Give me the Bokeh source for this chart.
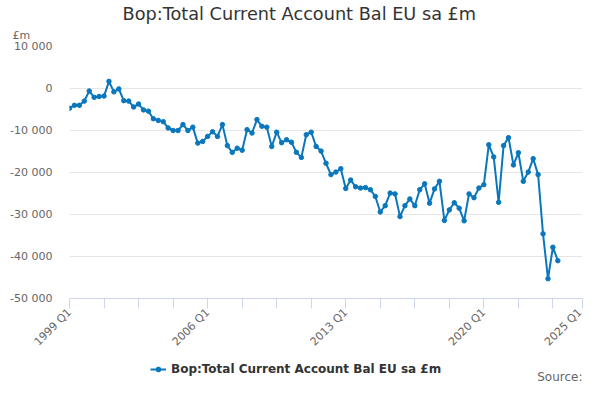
import math
from bokeh.plotting import figure
from bokeh.layouts import column
from bokeh.models import FixedTicker, Legend, LegendItem, ColumnDataSource, Title, Label
from bokeh.embed import file_html
from bokeh.resources import INLINE

# ---- data (quarterly, £m) ----
START_YEAR = 1999
values = [
    -4700, -4000, -4000, -3000, -600, -2100, -1900, -1800, 1700, -800,
    -100, -2900, -3000, -4400, -3700, -5100, -5400, -7200, -7600, -7900,
    -9400, -10000, -10000, -8600, -10000, -9200, -13000, -12600, -11400, -10300,
    -11400, -8600, -13600, -15200, -14200, -14700, -9800, -10600, -7400, -9000,
    -9200, -13800, -10400, -12900, -12200, -12800, -15200, -16400, -11000, -10400,
    -13800, -14900, -17800, -20500, -19900, -19100, -23800, -21800, -23400, -23700,
    -23600, -24100, -25700, -29400, -27900, -24900, -25100, -30500, -27900, -26300,
    -27900, -24100, -22700, -27300, -23900, -22100, -31400, -28900, -27200, -28500,
    -31500, -25100, -26000, -23700, -22900, -13400, -16300, -27100, -13600, -11700,
    -18200, -15300, -22100, -19900, -16700, -20500, -34600, -45300, -37800, -41000,
]
quarters = [f"{START_YEAR + i // 4} Q{i % 4 + 1}" for i in range(len(values))]
idx = list(range(len(values)))

x_ticks = [0, 7, 14, 21, 28, 35, 42, 49, 56, 63, 70, 77, 84, 91, 98, 104]
x_tick_labels = {0: "1999 Q1", 28: "2006 Q1", 56: "2013 Q1", 84: "2020 Q1", 104: "2025 Q1"}
y_ticks = [-50000, -40000, -30000, -20000, -10000, 0, 10000]
y_tick_labels = ["-50 000", "-40 000", "-30 000", "-20 000", "-10 000", "0", "10 000"]

series_name = "Bop:Total Current Account Bal EU sa £m"
title_text = "Bop:Total Current Account Bal EU sa £m"
unit_text = "£m"
source_text = "Source:"

COLOR = "#0a77bd"
FONT = "DejaVu Sans"

src = ColumnDataSource(dict(x=idx, y=values, q=quarters))

# ---------------- main chart ----------------
p = figure(width=584, height=356, output_backend="svg", toolbar_location=None,
           x_range=(0, 104), y_range=(-50000, 10000),
           min_border_left=69, min_border_right=2, min_border_top=46, min_border_bottom=52)
p.outline_line_color = None
p.background_fill_color = "white"

line_r = p.line("x", "y", source=src, line_color=COLOR, line_width=2)
dot_r = p.scatter("x", "y", source=src, size=4.5, fill_color=COLOR, line_color=COLOR)

xa = p.xaxis[0]
xa.ticker = FixedTicker(ticks=x_ticks)
xa.major_label_overrides = {t: x_tick_labels.get(t, "") for t in x_ticks}
xa.major_label_orientation = math.pi / 4
xa.axis_line_color = "#ccd6eb"
xa.major_tick_line_color = "#ccd6eb"
xa.major_tick_out = 10
xa.major_tick_in = 0
xa.minor_tick_line_color = None
xa.major_label_text_font = FONT
xa.major_label_text_font_size = "11px"
xa.major_label_text_color = "#666666"
xa.major_label_standoff = 2

ya = p.yaxis[0]
ya.ticker = FixedTicker(ticks=y_ticks)
ya.major_label_overrides = {t: l for t, l in zip(y_ticks, y_tick_labels)}
ya.axis_line_color = None
ya.major_tick_line_color = None
ya.minor_tick_line_color = None
ya.major_tick_out = 0
ya.major_tick_in = 0
ya.major_label_standoff = 17
ya.major_label_text_font = FONT
ya.major_label_text_font_size = "11px"
ya.major_label_text_color = "#666666"

p.xgrid.grid_line_color = None
p.ygrid.grid_line_color = "#e6e6e6"
p.ygrid.ticker = FixedTicker(ticks=y_ticks)

# main title (outermost, figure's own title)
p.title.text = title_text
p.title.align = "left"
p.title.offset = 53
p.title.standoff = -4
p.title.text_font = FONT
p.title.text_font_size = "17.7px"
p.title.text_font_style = "normal"
p.title.text_color = "#333333"

# unit label (nearest the frame)
p.add_layout(Title(text=unit_text, align="left", offset=-57, standoff=10,
                   text_font=FONT, text_font_size="11px", text_font_style="normal",
                   text_color="#666666"), "above")

# ---------------- legend / source strip ----------------
p2 = figure(width=584, height=28, output_backend="svg", toolbar_location=None,
            x_range=(0, 1), y_range=(0, 1), title=None,
            x_axis_location=None, y_axis_location=None, min_border=0)
p2.outline_line_color = None
p2.xgrid.visible = False
p2.ygrid.visible = False

# legend keys: same series and styling, outside this strip's visible range
key_line = p2.line("x", "y", source=src, line_color=COLOR, line_width=2)
key_dot = p2.scatter("x", "y", source=src, size=4.5, fill_color=COLOR, line_color=COLOR)

legend = Legend(items=[LegendItem(label=series_name, renderers=[key_line, key_dot])],
                location=(81, 8), orientation="horizontal",
                padding=0, margin=0, border_line_color=None, background_fill_alpha=0,
                glyph_width=16, glyph_height=12, label_height=12, label_standoff=5,
                label_text_font=FONT, label_text_font_size="12px",
                label_text_font_style="bold", label_text_color="#333333")
p2.add_layout(legend)

p2.add_layout(Label(x=1, y=0, x_offset=0, y_offset=8, text=source_text,
                    text_align="right", text_baseline="alphabetic",
                    text_font=FONT, text_font_size="12px", text_color="#666666"))

layout = column(p, p2, spacing=0)
open("out.html", "w").write(file_html(layout, INLINE))
